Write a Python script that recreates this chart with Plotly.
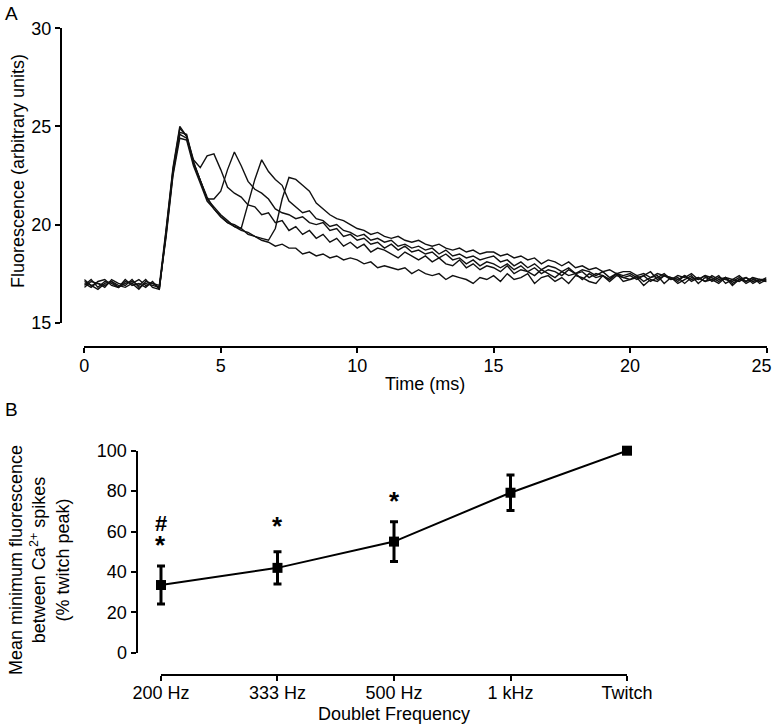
import plotly.graph_objects as go

W, H = 774, 728
FONT = "Liberation Sans, Arial, sans-serif"

# sample clock of the fluorescence recordings (ms), one sample every 0.25 ms
time_ms = [round(i * 0.25, 2) for i in range(101)]

# fluorescence traces (arbitrary units), rows of 2.5 ms
twitch = [
    16.9, 17.2, 16.8, 17.1, 17.0, 16.8, 17.2, 16.9, 17.0, 16.8,
    17.1, 16.7, 19.6, 22.7, 24.6, 24.4, 23.2, 22.3, 21.3, 20.9,
    20.5, 20.2, 19.9, 19.8, 19.5, 19.4, 19.2, 19.1, 18.9, 19.0,
    18.8, 18.8, 18.5, 18.6, 18.4, 18.5, 18.3, 18.4, 18.2, 18.3,
    18.2, 18.0, 18.1, 17.8, 17.9, 17.8, 17.7, 17.8, 17.5, 17.7,
    17.5, 17.4, 17.5, 17.2, 17.4, 17.3, 17.2, 17.0, 17.3, 17.2,
    17.4, 17.1, 17.5, 17.2, 17.3, 17.5, 17.0, 17.3, 17.4, 17.1,
    17.3, 17.0, 17.4, 17.3, 17.1, 17.0, 17.4, 17.2, 17.5, 17.1,
    17.2, 17.3, 16.9, 17.2, 17.1, 17.4, 17.3, 17.0, 17.2, 17.4,
    17.0, 17.3, 17.2, 17.0, 17.3, 16.9, 17.2, 17.1, 17.3, 17.0,
    17.2,
]
doublet_1khz = [
    17.0, 16.8, 17.1, 17.2, 16.9, 16.8, 17.1, 17.0, 16.7, 17.1,
    17.0, 16.9, 19.8, 22.9, 25.0, 24.5, 23.3, 22.9, 23.5, 23.6,
    22.8, 21.9, 21.6, 21.4, 21.0, 20.9, 20.5, 20.6, 20.1, 20.2,
    19.7, 19.9, 19.5, 19.7, 19.3, 19.5, 19.1, 19.3, 18.9, 19.1,
    18.8, 19.0, 18.6, 18.8, 18.7, 18.5, 18.3, 18.6, 18.4, 18.2,
    18.4, 18.1, 18.3, 18.0, 17.9, 18.2, 17.8, 18.0, 17.7, 17.9,
    17.8, 17.6, 17.9, 17.5, 17.7, 17.6, 17.4, 17.7, 17.5, 17.3,
    17.6, 17.4, 17.5, 17.2, 17.5, 17.3, 17.4, 17.1, 17.4, 17.3,
    17.2, 17.4, 17.1, 17.3, 17.4, 17.0, 17.3, 17.2, 17.4, 17.1,
    17.3, 17.1, 17.2, 17.4, 17.0, 17.2, 17.1, 17.3, 17.0, 17.2,
    17.1,
]
doublet_500hz = [
    17.1, 16.9, 17.0, 16.8, 17.2, 17.0, 16.9, 17.2, 16.8, 17.0,
    16.9, 16.8, 19.5, 22.6, 24.7, 24.6, 23.2, 22.2, 21.3, 21.3,
    21.7, 22.8, 23.7, 23.0, 22.2, 21.8, 21.6, 21.3, 20.8, 20.6,
    20.5, 20.3, 20.4, 20.1, 20.0, 20.1, 19.7, 19.8, 19.4, 19.5,
    19.2, 19.3, 19.0, 19.1, 18.8, 19.0, 18.7, 18.9, 18.6, 18.7,
    18.5, 18.6, 18.3, 18.5, 18.2, 18.3, 18.0, 18.2, 17.9, 18.1,
    18.0, 17.8, 18.0, 17.7, 17.9, 17.6, 17.8, 17.5, 17.7, 17.6,
    17.4, 17.7, 17.5, 17.6, 17.3, 17.5, 17.4, 17.2, 17.5, 17.3,
    17.4, 17.2, 17.4, 17.1, 17.3, 17.5, 17.2, 17.3, 17.0, 17.3,
    17.2, 17.4, 17.1, 17.3, 17.2, 17.1, 17.3, 17.0, 17.2, 17.1,
    17.3,
]
doublet_333hz = [
    16.8, 17.1, 17.0, 16.9, 17.1, 16.8, 17.0, 17.1, 16.9, 17.2,
    16.8, 16.7, 19.7, 22.8, 24.9, 24.5, 23.1, 22.2, 21.4, 20.8,
    20.4, 20.1, 20.0, 19.8, 21.0, 22.3, 23.3, 22.7, 22.3, 22.0,
    21.2, 20.9, 20.6, 20.7, 20.3, 20.2, 19.9, 20.0, 19.7, 19.6,
    19.4, 19.5, 19.2, 19.3, 19.1, 19.2, 18.9, 19.0, 18.8, 18.9,
    18.7, 18.8, 18.5, 18.7, 18.4, 18.5, 18.3, 18.4, 18.2, 18.3,
    18.4, 18.1, 18.2, 17.9, 18.1, 17.8, 18.0, 17.7, 17.9, 17.8,
    17.6, 17.8, 17.5, 17.7, 17.6, 17.4, 17.6, 17.3, 17.5, 17.4,
    17.5, 17.3, 17.4, 17.6, 17.2, 17.4, 17.3, 17.1, 17.4, 17.2,
    17.3, 17.1, 17.4, 17.2, 17.3, 17.0, 17.2, 17.3, 17.1, 17.2,
    17.2,
]
doublet_200hz = [
    17.2, 16.9, 16.7, 17.0, 17.1, 16.9, 16.8, 17.0, 17.2, 16.9,
    17.0, 16.8, 19.4, 22.5, 24.4, 24.3, 23.0, 22.1, 21.2, 20.8,
    20.4, 20.1, 19.9, 19.7, 19.6, 19.4, 19.3, 19.2, 19.8, 21.3,
    22.4, 22.3, 22.0, 21.7, 21.1, 20.8, 20.5, 20.3, 20.2, 20.0,
    19.8, 19.7, 19.5, 19.6, 19.4, 19.3, 19.4, 19.2, 19.1, 19.2,
    19.0, 18.9, 19.0, 18.8, 18.7, 18.8, 18.6, 18.7, 18.5, 18.6,
    18.6, 18.4, 18.5, 18.3, 18.4, 18.2, 18.3, 18.0, 18.2, 18.1,
    17.9, 18.1, 17.8, 17.9, 17.7, 17.8, 17.6, 17.7, 17.5, 17.6,
    17.6, 17.4, 17.5, 17.3, 17.5, 17.4, 17.2, 17.4, 17.3, 17.5,
    17.2, 17.4, 17.3, 17.1, 17.3, 17.2, 17.4, 17.1, 17.3, 17.2,
    17.1,
]
time_ticks = [0, 5, 10, 15, 20, 25]
# last label padded so it stays inside the page edge
time_tick_text = ["0", "5", "10", "15", "20", "25\u00a0\u00a0"]

# panel B: mean minimum fluorescence between spikes (% twitch peak)
freq_labels = ["200 Hz", "333 Hz", "500 Hz", "1 kHz", "Twitch"]
min_fluor = [33.5, 42.0, 55.0, 79.2, 100.0]
min_fluor_err = [9.4, 8.0, 9.8, 8.8, 0.0]

# significance marks above the points
sig_x = ["200 Hz", "200 Hz", "333 Hz", "500 Hz"]
sig_text = ["#", "*", "*", "*"]
sig_y = [64, 53.5, 62.7, 74.9]


def px(x):
    """Screen column to paper x."""
    return x / W


def py(y):
    """Screen row to paper y."""
    return 1 - y / H


def axis_style(**kw):
    """Prism-like detached axis."""
    d = dict(showline=True, linecolor="black", linewidth=2,
             ticks="outside", ticklen=5, tickwidth=2, tickcolor="black",
             showgrid=False, zeroline=False, anchor="free",
             automargin=False, ticklabeloverflow="allow",
             tickfont=dict(size=18, color="black", family=FONT))
    d.update(kw)
    return d


def main():
    fig = go.Figure()
    for trace in [twitch, doublet_1khz, doublet_500hz, doublet_333hz,
                  doublet_200hz]:
        fig.add_trace(go.Scatter(x=time_ms, y=trace, mode="lines",
                                 line=dict(color="#111111", width=1.4),
                                 xaxis="x", yaxis="y", showlegend=False))

    fig.add_trace(go.Scatter(
        x=freq_labels, y=min_fluor, mode="lines+markers",
        line=dict(color="black", width=2),
        marker=dict(symbol="square", size=10, color="black"),
        error_y=dict(type="data", array=min_fluor_err, color="black",
                     thickness=3, width=4),
        cliponaxis=False, xaxis="x2", yaxis="y2", showlegend=False))

    annotations = []
    for x, t, y in zip(sig_x, sig_text, sig_y):
        size = 22 if t == "#" else 26
        annotations.append(dict(x=x, y=y, xref="x2", yref="y2",
                                text="<b>%s</b>" % t, showarrow=False,
                                xanchor="center", yanchor="middle",
                                font=dict(size=size, color="black")))

    def label(x, y, text, size=18, angle=0):
        annotations.append(dict(x=px(x), y=py(y), xref="paper",
                                yref="paper", text=text, showarrow=False,
                                xanchor="center", yanchor="middle",
                                textangle=angle,
                                font=dict(size=size, color="black")))

    label(11, 13, "A", size=19)
    label(11, 409, "B", size=19)
    label(425, 384, "Time (ms)")
    label(18, 171, "Fluorescence (arbitrary units)", angle=-90)
    label(394, 714, "Doublet Frequency")
    label(39, 560, "Mean minimum fluorescence<br>between Ca<sup>2+</sup> "
          "spikes<br>(% twitch peak)", angle=-90)

    # x axis line of panel B runs from the first to the last category
    fig.add_shape(type="line", xref="x2", yref="paper",
                  x0=freq_labels[0], x1=freq_labels[-1],
                  y0=py(675), y1=py(675),
                  line=dict(color="black", width=2))

    fig.update_layout(
        width=W, height=H, margin=dict(l=0, r=0, t=0, b=0),
        paper_bgcolor="white", plot_bgcolor="white",
        font=dict(family=FONT, size=18, color="black"),
        xaxis=axis_style(domain=[px(84.3), px(766.5)], range=[0, 25],
                         position=py(346.7), ticklabelstandoff=-2,
                         tickvals=time_ticks, ticktext=time_tick_text),
        yaxis=axis_style(domain=[py(322.7), py(28.3)], range=[15, 30],
                         position=px(61),
                         tickvals=[15, 20, 25, 30]),
        xaxis2=axis_style(domain=[px(154), px(627)], type="category",
                          categoryarray=freq_labels, range=[-0.06, 4],
                          position=py(675), showline=False,
                          ticklabelstandoff=-4),
        yaxis2=axis_style(domain=[py(652.7), py(450.7)], range=[0, 100],
                          position=px(136.5),
                          tickvals=[0, 20, 40, 60, 80, 100]),
        annotations=annotations,
    )
    # drop the page's default body margin so the figure starts at 0,0
    fig.write_html("out.html", config={"displayModeBar": False},
                   post_script="document.body.style.margin = '0px';")


if __name__ == "__main__":
    main()
